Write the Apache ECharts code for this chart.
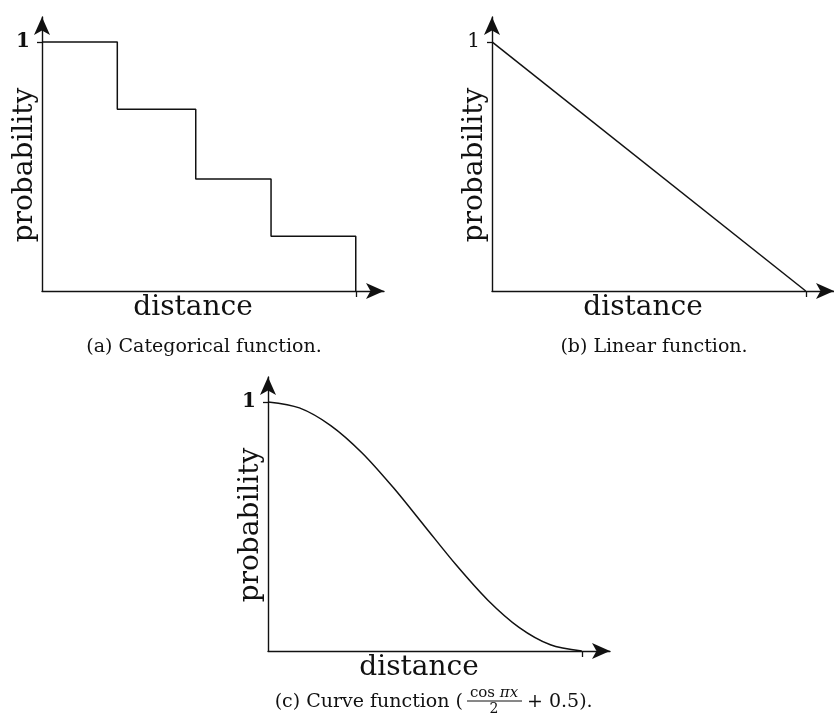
<!DOCTYPE html>
<html>
<head>
<meta charset="utf-8">
<script src="https://cdn.jsdelivr.net/npm/echarts@6/dist/echarts.min.js"></script>
<style>
  html, body { margin: 0; padding: 0; background: #fff; }
  #main { width: 834px; height: 718px; }
</style>
</head>
<body>
<div id="main"></div>
<script>
// (a) categorical: step breaks on distance and the level of each step
const catBreaks = [0, 0.24, 0.49, 0.73, 1];
const catLevels = [1, 0.73, 0.45, 0.22];
// (b) linear
const linX = [0, 1];
const linY = [1, 0];
// (c) curve
const curveX = [0, 0.1, 0.2, 0.3, 0.4, 0.5, 0.6, 0.7, 0.8, 0.9, 1];
const curveY = [1, 0.976, 0.905, 0.795, 0.655, 0.5, 0.345, 0.205, 0.095, 0.025, 0];

const yTicks = [1];
const xTicks = [1];
const xName = 'distance';
const yName = 'probability';

const FONT = 'DejaVu Serif';
const INK = '#111';

let stepData = [];
catLevels.forEach((v, i) => stepData.push([catBreaks[i], v]));
stepData.push([catBreaks[catBreaks.length - 1], catLevels[catLevels.length - 1]]);
stepData.push([catBreaks[catBreaks.length - 1], 0]);

const grids = [
    { left: 42, top: 17, width: 342, height: 274 },
    { left: 492, top: 17, width: 342, height: 274 },
    { left: 268, top: 377, width: 342, height: 274 }
];

function xAxisOf(i) {
    return {
        type: 'value', gridIndex: i, min: 0, max: 1.09,
        name: xName, nameLocation: 'middle', nameGap: 3, nameMoveOverlap: false,
        nameTextStyle: { fontFamily: FONT, fontSize: 28, color: INK, padding: [0, 40, 0, 0] },
        axisLine: { lineStyle: { color: INK, width: 1.4 }, symbol: ['none', 'arrow'], symbolSize: [12, 18] },
        axisTick: { show: true, customValues: xTicks, length: 6, inside: false, lineStyle: { color: INK, width: 1.3 } },
        axisLabel: { show: false },
        splitLine: { show: false }
    };
}

function yAxisOf(i, bold) {
    return {
        type: 'value', gridIndex: i, min: 0, max: 1.1,
        name: yName, nameLocation: 'middle', nameGap: 3, nameRotate: 90, nameMoveOverlap: false,
        nameTextStyle: { fontFamily: FONT, fontSize: 28, color: INK, padding: [0, 22, 0, 0] },
        axisLine: { lineStyle: { color: INK, width: 1.4 }, symbol: ['none', 'arrow'], symbolSize: [12, 18] },
        axisTick: { show: true, customValues: yTicks, length: 5, lineStyle: { color: INK, width: 1.3 } },
        axisLabel: {
            customValues: yTicks, fontFamily: FONT, fontSize: 20, color: INK, margin: 12,
            fontWeight: bold ? 'bold' : 'normal'
        },
        splitLine: { show: false }
    };
}

const lineStyle = { color: INK, width: 1.5 };

const option = {
    backgroundColor: '#fff',
    animation: false,
    grid: grids.map(g => Object.assign({ outerBoundsMode: 'none', containLabel: false }, g)),
    xAxis: [xAxisOf(0), xAxisOf(1), xAxisOf(2)],
    yAxis: [yAxisOf(0, true), yAxisOf(1, false), yAxisOf(2, true)],
    series: [
        {
            type: 'line', xAxisIndex: 0, yAxisIndex: 0, step: 'end',
            data: stepData, showSymbol: false, lineStyle: lineStyle
        },
        {
            type: 'line', xAxisIndex: 1, yAxisIndex: 1,
            data: linX.map((x, i) => [x, linY[i]]), showSymbol: false, lineStyle: lineStyle
        },
        {
            type: 'line', xAxisIndex: 2, yAxisIndex: 2, smooth: 0.3,
            data: curveX.map((x, i) => [x, curveY[i]]), showSymbol: false, lineStyle: lineStyle
        }
    ],
    graphic: [
        {
            type: 'text', x: 204, y: 347,
            style: { text: '(a) Categorical function.', font: '19px "DejaVu Serif"', fill: INK, align: 'center', verticalAlign: 'middle' }
        },
        {
            type: 'text', x: 654, y: 347,
            style: { text: '(b) Linear function.', font: '19px "DejaVu Serif"', fill: INK, align: 'center', verticalAlign: 'middle' }
        },
        {
            type: 'text', x: 463, y: 702,
            style: { text: '(c) Curve function (', font: '19px "DejaVu Serif"', fill: INK, align: 'right', verticalAlign: 'middle' }
        },
        {
            type: 'text', x: 494, y: 693,
            style: {
                text: 'cos {i|πx}', font: '15px "DejaVu Serif"', fill: INK, align: 'center', verticalAlign: 'middle',
                rich: { i: { fontFamily: FONT, fontStyle: 'italic', fontSize: 15 } }
            }
        },
        {
            type: 'line', shape: { x1: 467, y1: 701, x2: 522, y2: 701 },
            style: { stroke: INK, lineWidth: 1 }
        },
        {
            type: 'text', x: 494, y: 709,
            style: { text: '2', font: '14px "DejaVu Serif"', fill: INK, align: 'center', verticalAlign: 'middle' }
        },
        {
            type: 'text', x: 527, y: 702,
            style: { text: '+ 0.5).', font: '19px "DejaVu Serif"', fill: INK, align: 'left', verticalAlign: 'middle' }
        }
    ]
};

const chart = echarts.init(document.getElementById('main'));
chart.setOption(option);
</script>
</body>
</html>
